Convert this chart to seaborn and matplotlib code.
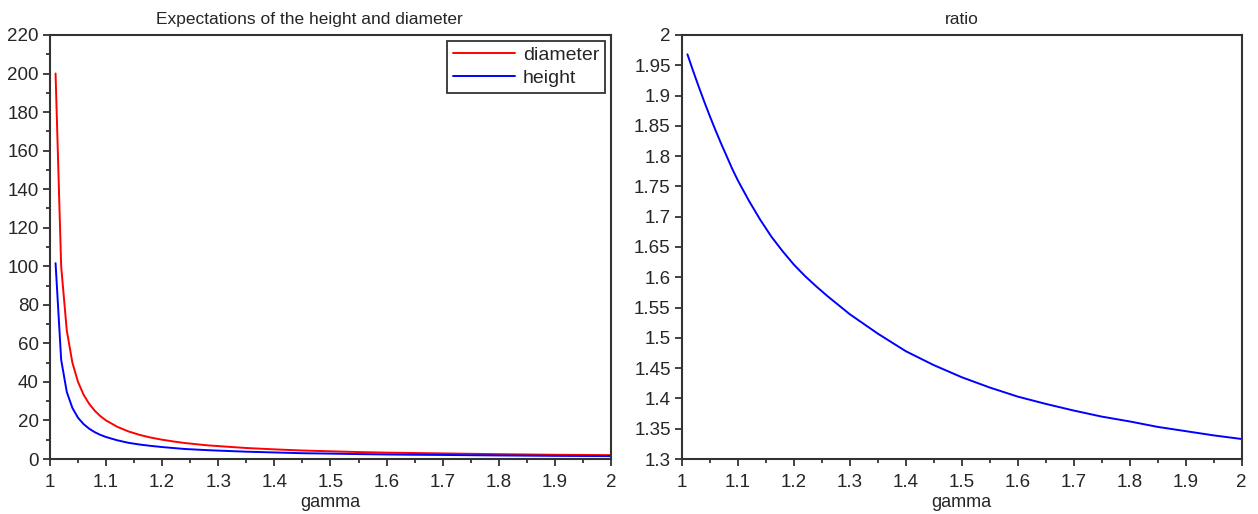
import seaborn as sns
import matplotlib.pyplot as plt
from matplotlib.ticker import MultipleLocator

# values
gamma = [1.01, 1.02, 1.03, 1.04, 1.05, 1.06, 1.07, 1.08, 1.09, 1.10,
         1.12, 1.14, 1.16, 1.18, 1.20, 1.22, 1.24, 1.26, 1.28, 1.30,
         1.35, 1.40, 1.45, 1.50, 1.55, 1.60, 1.65, 1.70, 1.75, 1.80,
         1.85, 1.90, 1.95, 2.00]
diameter = [200, 100, 66.7, 50, 40, 33.3, 28.6, 25, 22.2, 20,
            16.7, 14.3, 12.5, 11.1, 10, 9.1, 8.3, 7.7, 7.1, 6.7,
            5.7, 5, 4.4, 4, 3.6, 3.3, 3.1, 2.9, 2.7, 2.5,
            2.35, 2.2, 2.1, 2.0]
height = [101.6, 51.5, 34.8, 26.5, 21.4, 18.1, 15.7, 13.9, 12.5, 11.4,
          9.7, 8.4, 7.5, 6.8, 6.2, 5.7, 5.2, 4.9, 4.6, 4.35,
          3.8, 3.4, 3.0, 2.8, 2.55, 2.35, 2.2, 2.1, 1.97, 1.84,
          1.74, 1.63, 1.57, 1.5]
ratio = [1.968, 1.941, 1.915, 1.890, 1.866, 1.843, 1.821, 1.800, 1.779, 1.760,
         1.726, 1.695, 1.667, 1.643, 1.621, 1.602, 1.585, 1.569, 1.554, 1.539,
         1.507, 1.478, 1.455, 1.435, 1.418, 1.403, 1.391, 1.380, 1.370, 1.362,
         1.353, 1.346, 1.339, 1.333]

ratio_ticks = [1.3, 1.35, 1.4, 1.45, 1.5, 1.55, 1.6, 1.65, 1.7, 1.75,
               1.8, 1.85, 1.9, 1.95, 2]
ratio_labels = ['1.3', '1.35', '1.4', '1.45', '1.5', '1.55', '1.6', '1.65',
                '1.7', '1.75', '1.8', '1.85', '1.9', '1.95', '2']
gamma_ticks = [1, 1.1, 1.2, 1.3, 1.4, 1.5, 1.6, 1.7, 1.8, 1.9, 2]
gamma_labels = ['1', '1.1', '1.2', '1.3', '1.4', '1.5', '1.6', '1.7', '1.8', '1.9', '2']

sns.set_style('ticks')
plt.rcParams['font.family'] = ['Liberation Sans', 'DejaVu Sans']

fig = plt.figure(figsize=(12.58, 5.14), dpi=100)
ax1 = fig.add_axes([0.0397, 0.107, 0.446, 0.825])
ax2 = fig.add_axes([0.542, 0.107, 0.445, 0.825])

sns.lineplot(x=gamma, y=diameter, color='#ff0000', lw=1.4, label='diameter', ax=ax1)
sns.lineplot(x=gamma, y=height, color='#0000ff', lw=1.4, label='height', ax=ax1)
sns.lineplot(x=gamma, y=ratio, color='#0000ff', lw=1.4, ax=ax2)

ax1.set_xlim(1, 2)
ax1.set_ylim(0, 220)
ax1.yaxis.set_major_locator(MultipleLocator(20))
ax1.yaxis.set_minor_locator(MultipleLocator(10))
ax1.set_title('Expectations of the height and diameter', fontsize=12.5, pad=8, x=0.462)

ax2.set_xlim(1, 2)
ax2.set_ylim(1.3, 2)
ax2.set_yticks(ratio_ticks)
ax2.set_yticklabels(ratio_labels)
ax2.set_title('ratio', fontsize=12.5, pad=8)

for ax in (ax1, ax2):
    ax.set_xticks(gamma_ticks)
    ax.set_xticklabels(gamma_labels)
    ax.xaxis.set_minor_locator(MultipleLocator(0.05))
    ax.set_xlabel('gamma', fontsize=13, labelpad=2)
    ax.tick_params(which='major', length=5, width=1.3, labelsize=13.5, pad=3,
                   color='#333333')
    ax.tick_params(axis='x', which='major', pad=6)
    ax.tick_params(which='minor', length=3, width=1.3, color='#333333')
    for s in ax.spines.values():
        s.set_visible(True)
        s.set_color('#333333')
        s.set_linewidth(1.5)

leg = ax1.legend(loc='upper right', fontsize=14, fancybox=False, framealpha=1,
                 edgecolor='#333333', borderaxespad=0.3, handlelength=3.2,
                 handletextpad=0.4, borderpad=0.3, labelspacing=0.25)
leg.get_frame().set_linewidth(1.3)

fig.savefig('out.png', dpi=100)
